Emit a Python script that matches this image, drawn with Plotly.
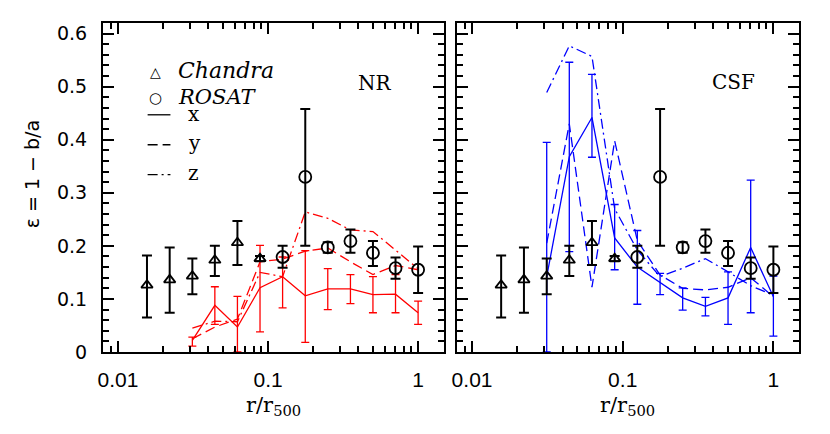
import plotly.graph_objects as go

# ---------------- data ----------------
chandra_r = [0.0156, 0.0221, 0.0313, 0.0442, 0.0625, 0.0884]
chandra_eps = [0.126, 0.136, 0.143, 0.173, 0.206, 0.176]
chandra_hi = [0.182, 0.197, 0.176, 0.200, 0.247, 0.181]
chandra_lo = [0.065, 0.074, 0.109, 0.143, 0.164, 0.171]

rosat_r = [0.125, 0.177, 0.25, 0.354, 0.5, 0.707, 1.0]
rosat_eps = [0.179, 0.330, 0.197, 0.209, 0.187, 0.158, 0.155]
rosat_hi = [0.200, 0.458, 0.207, 0.231, 0.209, 0.178, 0.199]
rosat_lo = [0.159, 0.200, 0.187, 0.187, 0.162, 0.138, 0.111]

sim_r = [0.0313, 0.0442, 0.0625, 0.0884, 0.125, 0.177, 0.25, 0.354, 0.5, 0.707, 1.0]

nr_x = [0.022, 0.088, 0.047, 0.121, 0.142, 0.106, 0.119, 0.119, 0.108, 0.109, 0.074]
nr_x_hi = [0.028, 0.123, 0.105, 0.201, 0.179, 0.191, 0.157, 0.146, 0.142, 0.146, 0.096]
nr_x_lo = [0.011, 0.052, 0.000, 0.038, 0.083, 0.018, 0.080, 0.091, 0.074, 0.074, 0.052]
nr_y = [0.025, 0.047, 0.062, 0.170, 0.175, 0.190, 0.196, 0.170, 0.146, 0.163, 0.155]
nr_z = [0.045, 0.058, 0.057, 0.150, 0.142, 0.264, 0.252, 0.230, 0.227, 0.192, 0.157]

csf_x = [0.142, 0.368, 0.442, 0.215, 0.160, 0.131, 0.102, 0.086, 0.102, 0.197, 0.104]
csf_x_hi = [0.395, 0.546, 0.523, 0.278, 0.229, 0.148, 0.121, 0.103, 0.151, 0.324, 0.143]
csf_x_lo = [0.000, 0.189, 0.367, 0.155, 0.090, 0.108, 0.079, 0.068, 0.052, 0.074, 0.030]
csf_y = [0.205, 0.430, 0.122, 0.398, 0.210, 0.145, 0.120, 0.117, 0.122, 0.140, 0.104]
csf_z = [0.489, 0.577, 0.557, 0.270, 0.192, 0.142, 0.158, 0.176, 0.151, 0.125, 0.107]

x_tickvals = [0.01, 0.1, 1]
x_ticktext = ["0.01", "0.1", "1"]
y_tickvals = [0, 0.1, 0.2, 0.3, 0.4, 0.5, 0.6]
y_ticktext = ["0", "0.1", "0.2", "0.3", "0.4", "0.5", "0.6"]
x_minor = [0.008, 0.009, 0.02, 0.03, 0.04, 0.05, 0.06, 0.07, 0.08, 0.09,
           0.2, 0.3, 0.4, 0.5, 0.6, 0.7, 0.8, 0.9]
y_minor = [0.02, 0.04, 0.06, 0.08, 0.12, 0.14, 0.16, 0.18, 0.22, 0.24, 0.26, 0.28,
           0.32, 0.34, 0.36, 0.38, 0.42, 0.44, 0.46, 0.48, 0.52, 0.54, 0.56, 0.58]

RED = "#ff0000"
BLUE = "#0000ff"
X_RANGE = [-2.1, 0.17]
Y_RANGE = [0, 0.62]

fig = go.Figure()


def errs(v, hi, lo):
    return [h - a for a, h in zip(v, hi)], [a - l for a, l in zip(v, lo)]


def add_panel(col, sx, sx_hi, sx_lo, sy, sz, color):
    xa = "x" if col == 1 else "x2"
    ya = "y" if col == 1 else "y2"
    fig.add_trace(go.Scatter(x=sim_r, y=sy, mode="lines", xaxis=xa, yaxis=ya,
                             line=dict(color=color, width=1.3, dash="10px,5px"),
                             showlegend=False, hoverinfo="skip"))
    fig.add_trace(go.Scatter(x=sim_r, y=sz, mode="lines", xaxis=xa, yaxis=ya,
                             line=dict(color=color, width=1.3, dash="10px,4px,2px,4px"),
                             showlegend=False, hoverinfo="skip"))
    p, m = errs(sx, sx_hi, sx_lo)
    fig.add_trace(go.Scatter(x=sim_r, y=sx, mode="lines", xaxis=xa, yaxis=ya,
                             line=dict(color=color, width=1.3),
                             error_y=dict(type="data", array=p, arrayminus=m,
                                          color=color, thickness=1.3, width=4),
                             showlegend=False, hoverinfo="skip"))
    p, m = errs(chandra_eps, chandra_hi, chandra_lo)
    fig.add_trace(go.Scatter(x=chandra_r, y=chandra_eps, mode="markers", xaxis=xa, yaxis=ya,
                             marker=dict(symbol="triangle-up-open", size=10, color="black",
                                         line=dict(width=1.8, color="black")),
                             error_y=dict(type="data", array=p, arrayminus=m,
                                          color="black", thickness=2, width=5),
                             showlegend=False, hoverinfo="skip"))
    p, m = errs(rosat_eps, rosat_hi, rosat_lo)
    fig.add_trace(go.Scatter(x=rosat_r, y=rosat_eps, mode="markers", xaxis=xa, yaxis=ya,
                             marker=dict(symbol="circle-open", size=12, color="black",
                                         line=dict(width=1.8, color="black")),
                             error_y=dict(type="data", array=p, arrayminus=m,
                                          color="black", thickness=2, width=5),
                             showlegend=False, hoverinfo="skip"))


add_panel(1, nr_x, nr_x_hi, nr_x_lo, nr_y, nr_z, RED)
add_panel(2, csf_x, csf_x_hi, csf_x_lo, csf_y, csf_z, BLUE)

# empty traces so the minor-tick overlay axes are instantiated
for xa, ya in (("x3", "y"), ("x", "y3"), ("x4", "y2"), ("x2", "y4")):
    fig.add_trace(go.Scatter(x=[], y=[], xaxis=xa, yaxis=ya, mode="markers",
                             showlegend=False, hoverinfo="skip"))

xax = dict(type="log", range=X_RANGE, autorange=False, showline=True, linewidth=2,
           linecolor="black", mirror="ticks", ticks="inside", ticklen=11, tickwidth=2,
           tickcolor="black", tickmode="array", tickvals=x_tickvals, ticktext=x_ticktext,
           showgrid=False, zeroline=False,
           tickfont=dict(family="Liberation Sans", size=21, color="black"),
           ticklabelstandoff=8)
yax = dict(range=Y_RANGE, autorange=False, showline=True, linewidth=2, linecolor="black",
           mirror="ticks", ticks="inside", ticklen=11, tickwidth=2, tickcolor="black",
           tickmode="array", tickvals=y_tickvals, ticktext=y_ticktext,
           showgrid=False, zeroline=False,
           tickfont=dict(family="DejaVu Sans", size=19, color="black"),
           ticklabelstandoff=10)
xminor = dict(type="log", range=X_RANGE, autorange=False, showline=False, mirror="ticks",
              ticks="inside", ticklen=6, tickwidth=1.5, tickcolor="black",
              tickmode="array", tickvals=x_minor, showticklabels=False,
              showgrid=False, zeroline=False)
yminor = dict(range=Y_RANGE, autorange=False, showline=False, mirror="ticks",
              ticks="inside", ticklen=6, tickwidth=1.5, tickcolor="black",
              tickmode="array", tickvals=y_minor, showticklabels=False,
              showgrid=False, zeroline=False)

D1 = [0, 0.4894]
D2 = [0.5086, 1]
fig.update_layout(
    width=830, height=434,
    margin=dict(l=103, r=31, t=23, b=82),
    paper_bgcolor="white", plot_bgcolor="white",
    showlegend=False,
    xaxis=dict(xax, domain=D1, anchor="y"),
    xaxis2=dict(xax, domain=D2, anchor="y2"),
    yaxis=dict(yax, domain=[0, 1], anchor="x"),
    yaxis2=dict(yax, domain=[0, 1], anchor="x2", showticklabels=False),
    xaxis3=dict(xminor, domain=D1, anchor="y", overlaying="x"),
    xaxis4=dict(xminor, domain=D2, anchor="y2", overlaying="x2"),
    yaxis3=dict(yminor, domain=[0, 1], anchor="x", overlaying="y"),
    yaxis4=dict(yminor, domain=[0, 1], anchor="x2", overlaying="y2"),
)

ann = []
ann.append(dict(text="ε = 1 − b/a", xref="paper", yref="paper", x=-0.102, y=0.54,
                xanchor="center", yanchor="middle", textangle=-90, showarrow=False,
                font=dict(family="DejaVu Sans", size=19, color="black")))
for xr, yr in (("x domain", "y domain"), ("x2 domain", "y2 domain")):
    ann.append(dict(text="r/r<sub>500</sub>", xref=xr, yref=yr, x=0.5, y=-0.165,
                    xanchor="center", yanchor="middle", showarrow=False,
                    font=dict(family="DejaVu Serif", size=21, color="black")))
ann.append(dict(text="NR", xref="x domain", yref="y domain", x=0.80, y=0.818,
                xanchor="center", yanchor="middle", showarrow=False,
                font=dict(family="DejaVu Serif", size=20, color="black")))
ann.append(dict(text="CSF", xref="x2 domain", yref="y2 domain", x=0.809, y=0.822,
                xanchor="center", yanchor="middle", showarrow=False,
                font=dict(family="DejaVu Serif", size=20, color="black")))
ann.append(dict(text="△", xref="x domain", yref="y domain", x=0.154, y=0.852,
                xanchor="center", yanchor="middle", showarrow=False,
                font=dict(family="DejaVu Sans", size=14, color="black")))
ann.append(dict(text="○", xref="x domain", yref="y domain", x=0.154, y=0.772,
                xanchor="center", yanchor="middle", showarrow=False,
                font=dict(family="DejaVu Sans", size=15, color="black")))
ann.append(dict(text="<i>Chandra</i>", xref="x domain", yref="y domain", x=0.215, y=0.855,
                xanchor="left", yanchor="middle", showarrow=False,
                font=dict(family="DejaVu Serif", size=22, color="black")))
ann.append(dict(text="<i>ROSAT</i>", xref="x domain", yref="y domain", x=0.215, y=0.775,
                xanchor="left", yanchor="middle", showarrow=False,
                font=dict(family="DejaVu Serif", size=21, color="black")))
for lbl, yy in (("x", 0.724), ("y", 0.634), ("z", 0.543)):
    ann.append(dict(text=lbl, xref="x domain", yref="y domain", x=0.245, y=yy,
                    xanchor="left", yanchor="middle", showarrow=False,
                    font=dict(family="DejaVu Serif", size=20, color="black")))
fig.update_layout(annotations=ann)

shapes = []
for dash, yy in (("solid", 0.721), ("10px,5px", 0.630), ("10px,4px,2px,4px", 0.539)):
    shapes.append(dict(type="line", xref="x domain", yref="y domain",
                       x0=0.131, x1=0.198, y0=yy, y1=yy,
                       line=dict(color="black", width=1.3, dash=dash)))
fig.update_layout(shapes=shapes)

fig.write_html("out.html", config={"displayModeBar": False},
               post_script="document.body.style.margin='0';")
